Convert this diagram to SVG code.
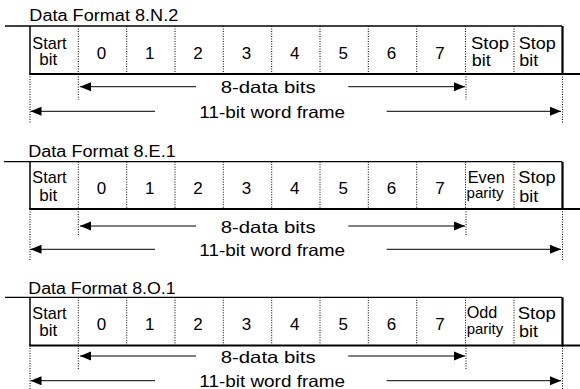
<svg xmlns="http://www.w3.org/2000/svg" width="580" height="389" viewBox="0 0 580 389">
<style>
text{font-family:"Liberation Sans",Arial,sans-serif;fill:#000}
.title{font-size:16px}
.cell{font-size:17px}
.dig{font-size:17px;text-anchor:middle}
.small{font-size:15px}
.lbl{font-size:16.5px}
.top{stroke:#000;stroke-width:1.3;fill:none}
.bot{stroke:#000;stroke-width:2;fill:none}
.lb{stroke:#000;stroke-width:1.5;fill:none}
.rb{stroke:#000;stroke-width:2.2;fill:none}
.dot{stroke:#000;stroke-width:1;stroke-dasharray:1 1.5;fill:none}
.arr{stroke:#000;stroke-width:1;fill:none;marker-end:url(#ah)}
</style>
<defs>
<marker id="ah" markerUnits="userSpaceOnUse" markerWidth="12" markerHeight="10" refX="11" refY="5" orient="auto" viewBox="0 0 12 10">
<path d="M0,0.5 L11,5 L0,9.5 Z" fill="#000"/>
</marker>
</defs>

<!-- Section 1: 8.N.2 -->
<g id="format-8N2">
<text class="title" x="29.3" y="20.7" textLength="149" lengthAdjust="spacingAndGlyphs">Data Format 8.N.2</text>
<g id="frame-8N2">
<line class="top" x1="5" y1="26" x2="562" y2="26"/>
<line class="bot" x1="29.3" y1="74" x2="580" y2="74"/>
<line class="lb" x1="30" y1="26" x2="30" y2="74"/>
<line class="rb" x1="562.5" y1="26" x2="562.5" y2="75"/>
<path class="dot" d="M78.3,26V74M126.7,26V74M175,26V74M223.3,26V74M271.7,26V74M320,26V74M368.3,26V74M416.7,26V74M465.5,26V74M514,26V74"/>
</g>
<g id="cell-8N2-start"><text class="cell" x="32.3" y="48.8" textLength="34.3" lengthAdjust="spacingAndGlyphs">Start</text><text class="cell" x="39.3" y="65" textLength="18" lengthAdjust="spacingAndGlyphs">bit</text></g>
<g id="cell-8N2-d0"><text class="dig" x="101.5" y="59.3">0</text></g>
<g id="cell-8N2-d1"><text class="dig" x="149.8" y="59.3">1</text></g>
<g id="cell-8N2-d2"><text class="dig" x="198" y="59.3">2</text></g>
<g id="cell-8N2-d3"><text class="dig" x="246.5" y="59.3">3</text></g>
<g id="cell-8N2-d4"><text class="dig" x="294.8" y="59.3">4</text></g>
<g id="cell-8N2-d5"><text class="dig" x="343.2" y="59.3">5</text></g>
<g id="cell-8N2-d6"><text class="dig" x="391.5" y="59.3">6</text></g>
<g id="cell-8N2-d7"><text class="dig" x="440" y="59.3">7</text></g>
<g id="cell-8N2-stop1"><text class="cell" x="471" y="48.8" textLength="38" lengthAdjust="spacingAndGlyphs">Stop</text><text class="cell" x="471.7" y="66" textLength="19" lengthAdjust="spacingAndGlyphs">bit</text></g>
<g id="cell-8N2-stop2"><text class="cell" x="518.7" y="48.8" textLength="37" lengthAdjust="spacingAndGlyphs">Stop</text><text class="cell" x="519.3" y="66" textLength="19" lengthAdjust="spacingAndGlyphs">bit</text></g>
<g id="label-8N2-data"><text class="lbl" x="220.7" y="93.3" textLength="95" lengthAdjust="spacingAndGlyphs">8-data bits</text></g>
<g id="label-8N2-frame"><text class="lbl" x="199.3" y="117.5" textLength="145.7" lengthAdjust="spacingAndGlyphs">11-bit word frame</text></g>
</g>

<!-- Section 2: 8.E.1 -->
<g id="format-8E1">
<text class="title" x="28.3" y="156.5" textLength="147.4" lengthAdjust="spacingAndGlyphs">Data Format 8.E.1</text>
<g id="frame-8E1">
<line class="top" x1="4" y1="161.7" x2="562" y2="161.7"/>
<line class="bot" x1="29.3" y1="209" x2="580" y2="209"/>
<line class="lb" x1="30" y1="161.7" x2="30" y2="209"/>
<line class="rb" x1="562.5" y1="161.7" x2="562.5" y2="210"/>
<path class="dot" d="M78.3,161.7V209M126.7,161.7V209M175,161.7V209M223.3,161.7V209M271.7,161.7V209M320,161.7V209M368.3,161.7V209M416.7,161.7V209M465.5,161.7V209M514,161.7V209"/>
</g>
<g id="cell-8E1-start"><text class="cell" x="32.3" y="183.3" textLength="34.3" lengthAdjust="spacingAndGlyphs">Start</text><text class="cell" x="39.3" y="200.5" textLength="18" lengthAdjust="spacingAndGlyphs">bit</text></g>
<g id="cell-8E1-d0"><text class="dig" x="101.5" y="194">0</text></g>
<g id="cell-8E1-d1"><text class="dig" x="149.8" y="194">1</text></g>
<g id="cell-8E1-d2"><text class="dig" x="198" y="194">2</text></g>
<g id="cell-8E1-d3"><text class="dig" x="246.5" y="194">3</text></g>
<g id="cell-8E1-d4"><text class="dig" x="294.8" y="194">4</text></g>
<g id="cell-8E1-d5"><text class="dig" x="343.2" y="194">5</text></g>
<g id="cell-8E1-d6"><text class="dig" x="391.5" y="194">6</text></g>
<g id="cell-8E1-d7"><text class="dig" x="440" y="194">7</text></g>
<g id="cell-8E1-parity"><text class="cell" x="467.7" y="183.3" textLength="37" lengthAdjust="spacingAndGlyphs">Even</text><text class="small" x="466.5" y="198.3" textLength="37" lengthAdjust="spacingAndGlyphs">parity</text></g>
<g id="cell-8E1-stop"><text class="cell" x="518.3" y="183.3" textLength="37.4" lengthAdjust="spacingAndGlyphs">Stop</text><text class="cell" x="519.3" y="201.5" textLength="19" lengthAdjust="spacingAndGlyphs">bit</text></g>
<g id="label-8E1-data"><text class="lbl" x="220.7" y="232.5" textLength="95" lengthAdjust="spacingAndGlyphs">8-data bits</text></g>
<g id="label-8E1-frame"><text class="lbl" x="199.3" y="255.5" textLength="145.7" lengthAdjust="spacingAndGlyphs">11-bit word frame</text></g>
</g>

<!-- Section 3: 8.O.1 -->
<g id="format-8O1">
<text class="title" x="28.3" y="294" textLength="147.4" lengthAdjust="spacingAndGlyphs">Data Format 8.O.1</text>
<g id="frame-8O1">
<line class="top" x1="5" y1="297.3" x2="562" y2="297.3"/>
<line class="bot" x1="29.3" y1="345.5" x2="580" y2="345.5"/>
<line class="lb" x1="30" y1="297.3" x2="30" y2="345.5"/>
<line class="rb" x1="562.5" y1="297.3" x2="562.5" y2="346.5"/>
<path class="dot" d="M78.3,297.3V345.5M126.7,297.3V345.5M175,297.3V345.5M223.3,297.3V345.5M271.7,297.3V345.5M320,297.3V345.5M368.3,297.3V345.5M416.7,297.3V345.5M465.5,297.3V345.5M514,297.3V345.5"/>
</g>
<g id="cell-8O1-start"><text class="cell" x="32.3" y="319.3" textLength="34.3" lengthAdjust="spacingAndGlyphs">Start</text><text class="cell" x="39.3" y="336" textLength="18" lengthAdjust="spacingAndGlyphs">bit</text></g>
<g id="cell-8O1-d0"><text class="dig" x="101.5" y="330">0</text></g>
<g id="cell-8O1-d1"><text class="dig" x="149.8" y="330">1</text></g>
<g id="cell-8O1-d2"><text class="dig" x="198" y="330">2</text></g>
<g id="cell-8O1-d3"><text class="dig" x="246.5" y="330">3</text></g>
<g id="cell-8O1-d4"><text class="dig" x="294.8" y="330">4</text></g>
<g id="cell-8O1-d5"><text class="dig" x="343.2" y="330">5</text></g>
<g id="cell-8O1-d6"><text class="dig" x="391.5" y="330">6</text></g>
<g id="cell-8O1-d7"><text class="dig" x="440" y="330">7</text></g>
<g id="cell-8O1-parity"><text class="cell" x="466.7" y="318.3" textLength="30.6" lengthAdjust="spacingAndGlyphs">Odd</text><text class="small" x="466.7" y="334" textLength="36.5" lengthAdjust="spacingAndGlyphs">parity</text></g>
<g id="cell-8O1-stop"><text class="cell" x="517.7" y="319.3" textLength="38" lengthAdjust="spacingAndGlyphs">Stop</text><text class="cell" x="519" y="337.3" textLength="19" lengthAdjust="spacingAndGlyphs">bit</text></g>
<g id="label-8O1-data"><text class="lbl" x="220.7" y="362.5" textLength="95" lengthAdjust="spacingAndGlyphs">8-data bits</text></g>
<g id="label-8O1-frame"><text class="lbl" x="199.3" y="387" textLength="145.7" lengthAdjust="spacingAndGlyphs">11-bit word frame</text></g>
</g>

<!-- Connectors: extent markers and arrows -->
<g id="connectors">
<path class="dot" d="M30,74V123.5M78.3,74V99.5M466,74V99.5M562.5,74V123.5"/>
<path class="arr" d="M196,86.7H80"/>
<path class="arr" d="M348.3,86.7H465"/>
<path class="arr" d="M155,111.3H30.5"/>
<path class="arr" d="M386.7,111.3H561"/>

<path class="dot" d="M30,209V260M78.3,209V236M466,209V236M562.5,209V260"/>
<path class="arr" d="M196,226H80"/>
<path class="arr" d="M348.3,226H465"/>
<path class="arr" d="M155,249.3H30.5"/>
<path class="arr" d="M386.7,249.3H561"/>

<path class="dot" d="M30,345.5V389M78.3,345.5V369.3M466,345.5V369.3M562.5,345.5V389"/>
<path class="arr" d="M196,356H80"/>
<path class="arr" d="M348.3,356H465"/>
<path class="arr" d="M155,380.7H30.5"/>
<path class="arr" d="M386.7,380.7H561"/>
</g>
</svg>
